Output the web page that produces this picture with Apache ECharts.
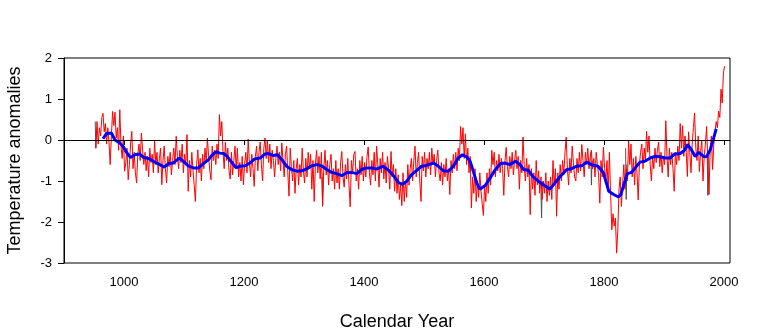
<!DOCTYPE html>
<html>
<head>
<meta charset="utf-8">
<script src="https://cdn.jsdelivr.net/npm/echarts@6/dist/echarts.min.js"></script>
<style>
html,body{margin:0;padding:0;background:#fff;}
#chart{width:760px;height:331px;}
</style>
</head>
<body>
<div id="chart"></div>
<script>
// ---- data ----
var xTickLabels = [1000, 1200, 1400, 1600, 1800, 2000];
var yTickLabels = [-3, -2, -1, 0, 1, 2];

// annual reconstruction sampled every 2 years, starting 953
var redStartYear = 953;
var redStepYears = 2;
var redValues = [
 -0.2,0.45,-0.1,0.3,0.1,0.55,0.65,0.2,0.4,-0.1,0.3,-0.05,-0.6,0.1,0.7,0.35,0.68,0.05,0.3,-0.25,0.74,-0.15,-0.45,0.1,-0.76,
 -0.55,-0.2,-0.97,-0.6,-0.1,0.21,-0.7,-0.3,-0.8,-1.05,-0.35,-0.1,-0.5,0.17,-0.25,-0.6,-0.3,-0.75,-0.4,-0.9,-0.2,-0.55,-0.35,-0.8,0.0,
 -0.6,-0.3,-0.8,-0.45,-0.2,-1.09,-0.5,-0.15,-0.7,-1.05,-0.4,-0.65,-0.3,-0.85,-0.5,-0.2,-0.6,0.09,-0.4,-0.7,-0.25,-0.55,-0.1,-0.8,-0.35,
 -0.6,0.13,-1.25,-0.5,-0.9,-0.3,-0.75,-1.1,-1.5,-0.6,-0.24,-0.8,-0.45,-1.0,-0.35,-0.7,-0.2,-0.55,0.05,-0.4,-0.75,-0.97,-0.15,-0.5,-0.25,
 -0.6,-0.1,-0.45,0.62,0.1,0.45,-0.3,-0.7,-0.05,-0.5,-0.2,-0.75,-0.95,-0.3,-0.85,-0.5,-0.15,-0.7,-0.2,-0.9,-0.55,-1.0,-0.4,-1.09,-0.6,
 -0.3,-0.8,0.02,-0.55,-0.9,-0.35,-0.7,-1.13,-0.4,-0.15,-0.75,-0.3,-0.05,-0.6,-1.0,-0.2,0.05,-0.45,0.0,-0.55,-0.1,-0.7,-0.25,-0.5,-0.9,
 -0.45,-0.15,-0.6,-0.3,-0.75,-0.07,-0.5,-0.9,-0.35,-0.15,-0.8,-1.37,-0.2,-0.65,-1.0,-0.5,-1.3,-0.7,-0.45,-1.1,-0.6,-0.9,-0.2,-0.75,-1.05,
 -0.45,-0.9,-0.3,-0.7,-0.35,-1.2,-0.5,-1.5,-0.6,-0.25,-0.8,-0.4,-0.95,-0.3,-1.6,-0.7,-0.25,-0.85,-0.5,-1.1,-0.6,-0.35,-1.0,-0.7,-1.2,
 -0.5,-1.05,-0.7,-1.2,-0.55,-0.28,-0.9,-1.15,-0.6,-0.95,-0.45,-1.1,-1.63,-0.5,-0.8,-0.35,-0.28,-1.0,-0.7,-1.2,-0.5,-0.85,-0.4,-1.0,-0.55,
 -0.9,-0.4,-0.17,-0.8,-1.1,-0.5,-0.85,-0.3,-1.0,-0.15,-0.6,-1.15,-0.45,-0.8,-0.3,-0.95,-0.55,-1.05,-0.4,-0.7,-1.2,-0.28,-0.9,-0.6,-1.25,
 -0.7,-1.3,-0.85,-1.45,-1.1,-1.6,-0.8,-1.5,-1.0,-1.4,-0.6,-1.1,-0.7,-0.45,-1.0,-0.5,-0.15,-0.9,-0.55,-0.3,-1.0,-1.5,-0.4,-0.75,-0.3,
 -0.9,-0.45,-0.7,-0.3,-0.85,-0.2,-0.6,-0.35,-0.9,-0.5,-0.25,-0.8,-1.0,-0.55,-1.1,-0.6,-0.9,-0.45,-1.0,-0.7,-1.33,-0.5,-0.8,-0.35,-0.7,
 -0.3,-0.75,-0.2,-0.5,0.33,-0.1,0.3,-0.45,0.15,-0.6,-0.2,-0.8,-0.4,-1.66,-0.9,-1.3,-0.7,-1.5,-1.0,-1.4,-0.8,-1.25,-1.55,-1.84,-1.1,
 -1.5,-0.8,-1.3,-0.7,-1.1,-0.25,-0.6,-0.3,-0.9,-0.5,-0.75,-0.35,-0.8,-0.45,-0.7,-1.35,-0.5,-0.18,-0.65,-0.9,-0.4,-0.7,-0.3,-0.85,-0.5,
 -0.25,-0.7,-0.4,-1.2,-0.5,-0.8,0.07,-0.6,-1.0,-0.45,-0.9,-0.6,-1.82,-0.7,-1.2,-0.8,-1.35,-0.5,-1.1,-0.75,-1.3,-0.9,-1.45,-1.0,-1.3,
 -0.8,-1.5,-1.0,-1.35,-0.9,-1.45,-0.5,-1.1,-0.7,-1.86,-0.8,-1.2,-0.6,-1.0,-0.5,-0.85,-0.3,0.07,-0.7,-1.1,-0.45,-0.8,-0.15,-0.55,-0.9,
 -1.0,-0.45,-0.8,-0.3,-0.75,-0.11,-0.5,-0.9,-0.3,-0.6,-0.2,-0.7,-0.4,-0.25,-0.7,-0.45,-0.9,-0.3,-0.6,-0.85,-1.54,-0.5,-0.9,-0.17,-0.7,
 -1.0,-0.5,-1.25,-0.3,-1.3,-2.19,-1.8,-2.1,-1.9,-2.76,-2.2,-1.2,-0.9,-1.62,-1.1,-0.6,-1.2,-0.7,-1.0,0.0,-0.6,-0.1,-0.9,-0.45,-1.1,
 -0.4,-0.8,-1.46,-0.6,-0.3,-0.1,-0.7,-0.2,-0.5,0.21,-0.3,0.1,-0.6,-1.0,-0.4,-0.7,-0.2,-0.55,-0.25,-0.05,-0.65,-0.3,-0.8,-0.4,-0.6,
 0.47,-0.4,-0.9,-0.2,-0.6,-0.3,-0.7,-1.25,-0.3,-0.6,-0.15,-0.5,0.4,-0.2,0.35,-0.4,0.1,-0.3,-0.89,0.2,-0.3,-0.8,-0.1,0.3,0.66,
 -0.2,-0.5,0.1,-0.77,-0.3,0.0,-1.0,-0.4,-0.1,0.33,-0.5,-1.33,-0.2,0.1,-0.72,-0.1,0.2,0.45,0.3,0.7,0.55,1.24,0.9,1.63,1.8
];

// second reconstruction, short visible segments (null = gap)
var grayYears  = [952, 953, 954, null, 1330, 1331, 1332, null, 1695, 1696, 1697, null, 1778, 1779, 1780, null, 1836, 1837, 1838, null, 1972, 1973, 1974];
var grayValues = [0.45, -0.2, 0.2, null, -0.9, -1.62, -0.8, null, -1.3, -1.9, -1.0, null, -0.3, -1.1, -0.5, null, -0.2, -1.45, -0.6, null, -0.3, -1.35, -0.4];

// smoothed curve
var blueYears = [965,967,971,979,985,993,999,1004,1011,1018,1026,1032,1041,1049,1057,1067,1074,1082,1092,1099,1107,1116,1124,1132,1141,1146,1153,1160,1166,1172,1178,1187,1193,1202,1210,1218,1227,1235,1241,1249,1256,1263,1271,1279,1288,1296,1304,1313,1321,1329,1338,1346,1354,1363,1371,1379,1388,1396,1404,1413,1421,1432,1441,1449,1457,1464,1471,1479,1488,1496,1504,1516,1524,1532,1541,1549,1557,1564,1571,1577,1582,1588,1593,1602,1610,1618,1627,1635,1643,1652,1660,1666,1674,1682,1691,1699,1710,1718,1727,1738,1746,1754,1763,1771,1779,1790,1799,1804,1808,1816,1824,1828,1834,1839,1846,1852,1860,1868,1877,1885,1893,1902,1910,1918,1927,1935,1939,1945,1952,1958,1966,1971,1977,1982,1987];
var blueValues = [0.03,0.05,0.16,0.17,0.0,-0.07,-0.17,-0.30,-0.43,-0.36,-0.34,-0.42,-0.45,-0.52,-0.58,-0.66,-0.58,-0.56,-0.44,-0.52,-0.63,-0.68,-0.68,-0.58,-0.48,-0.38,-0.29,-0.32,-0.33,-0.40,-0.52,-0.68,-0.64,-0.63,-0.56,-0.46,-0.44,-0.34,-0.33,-0.38,-0.36,-0.48,-0.64,-0.72,-0.76,-0.75,-0.71,-0.63,-0.60,-0.63,-0.72,-0.79,-0.82,-0.87,-0.80,-0.79,-0.82,-0.72,-0.68,-0.68,-0.71,-0.64,-0.74,-0.87,-1.03,-1.08,-1.01,-0.85,-0.74,-0.64,-0.62,-0.56,-0.64,-0.75,-0.76,-0.64,-0.44,-0.36,-0.41,-0.52,-0.76,-1.05,-1.20,-1.11,-0.93,-0.74,-0.58,-0.56,-0.60,-0.52,-0.60,-0.72,-0.74,-0.90,-1.01,-1.09,-1.20,-1.05,-0.89,-0.72,-0.70,-0.64,-0.63,-0.54,-0.60,-0.64,-0.80,-1.05,-1.25,-1.33,-1.39,-1.33,-1.05,-0.82,-0.79,-0.68,-0.54,-0.52,-0.44,-0.40,-0.41,-0.44,-0.44,-0.34,-0.33,-0.24,-0.11,-0.22,-0.40,-0.30,-0.40,-0.41,-0.24,0.01,0.27];

// ---- build ----
var redData = redValues.map(function (v, i) { return [redStartYear + i * redStepYears, v]; });
var grayData = grayYears.map(function (y, i) { return y === null ? [null, null] : [y, grayValues[i]]; });
var blueData = blueYears.map(function (y, i) { return [y, blueValues[i]]; });

var FONT = "'Liberation Sans', Arial, sans-serif";
var chart = echarts.init(document.getElementById('chart'), null, {renderer: 'canvas'});
chart.setOption({
  animation: false,
  backgroundColor: '#ffffff',
  grid: {left: 64, right: 30, top: 58, bottom: 68, show: true, borderColor: '#000', borderWidth: 1,
    backgroundColor: 'transparent', containLabel: false, outerBoundsMode: 'none'},
  xAxis: {
    type: 'value', min: 900, max: 2010,
    name: 'Calendar Year', nameLocation: 'middle', nameGap: 50,
    nameTextStyle: {fontFamily: FONT, fontSize: 18, color: '#000'},
    axisLine: {show: true, lineStyle: {color: '#000', width: 1}},
    axisTick: {show: true, length: 5, lineStyle: {color: '#000'}, customValues: xTickLabels},
    axisLabel: {fontFamily: FONT, fontSize: 13, color: '#000', margin: 13, customValues: xTickLabels,
      formatter: function (v) { return String(v); }},
    splitLine: {show: false}
  },
  yAxis: {
    type: 'value', min: yTickLabels[0], max: yTickLabels[yTickLabels.length - 1], interval: 1,
    name: 'Temperature anomalies', nameLocation: 'middle', nameGap: 40, nameRotate: 90,
    nameTextStyle: {fontFamily: FONT, fontSize: 18, color: '#000'},
    axisLine: {show: true, lineStyle: {color: '#000', width: 1}},
    axisTick: {show: true, length: 6, lineStyle: {color: '#000'}},
    axisLabel: {fontFamily: FONT, fontSize: 13, color: '#000', margin: 12,
      formatter: function (v) { return String(v); }},
    splitLine: {show: false}
  },
  series: [
    {type: 'line', data: grayData, showSymbol: false, connectNulls: false, z: 1,
     lineStyle: {color: '#505050', width: 1}},
    {type: 'line', data: redData, showSymbol: false, z: 2,
     lineStyle: {color: '#ff0000', width: 1}},
    {type: 'line', data: [], z: 3,
     markLine: {silent: true, symbol: 'none', label: {show: false},
       lineStyle: {color: '#000', width: 1, type: 'solid'}, data: [{yAxis: 0}]}},
    {type: 'line', data: blueData, showSymbol: false, z: 4,
     lineStyle: {color: '#0000ff', width: 3}}
  ]
});
</script>
</body>
</html>
